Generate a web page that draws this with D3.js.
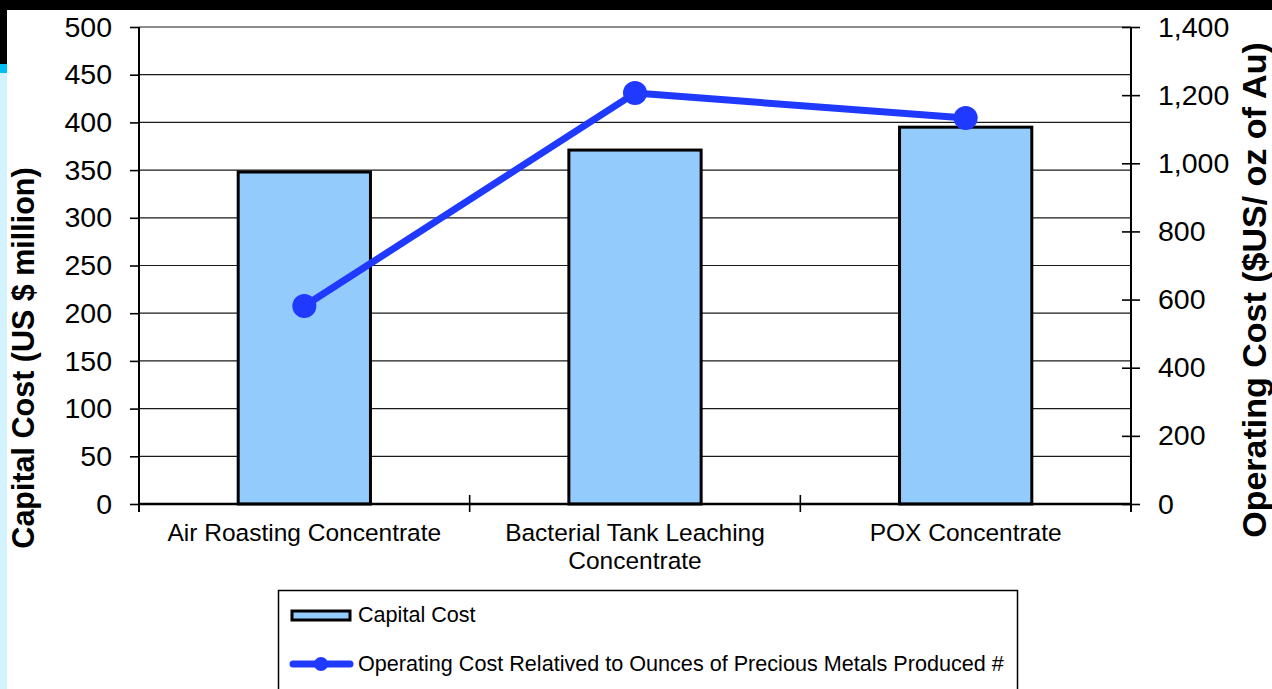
<!DOCTYPE html>
<html>
<head>
<meta charset="utf-8">
<script src="https://cdn.jsdelivr.net/npm/d3@7"></script>
<style>
  html, body { margin: 0; padding: 0; background: #fff; }
  svg { display: block; font-family: "Liberation Sans", Arial, sans-serif; }
</style>
</head>
<body>
<svg id="chart" width="1272" height="689"></svg>
<script>
// Categories and series
const categories = [
  ["Air Roasting Concentrate"],
  ["Bacterial Tank Leaching", "Concentrate"],
  ["POX Concentrate"]
];
const capitalCost = [348, 371, 395];          // US $ million (left axis)
const operatingCost = [581, 1206, 1133];      // $US / oz Au (right axis)
const leftTicks = [0, 50, 100, 150, 200, 250, 300, 350, 400, 450, 500];
const rightTicks = [0, 200, 400, 600, 800, 1000, 1200, 1400];
const seriesNames = ["Capital Cost", "Operating Cost Relatived to Ounces of Precious Metals Produced #"];

const svg = d3.select("#chart");
const W = 1272, H = 689;
const m = { left: 139, right: 1131, top: 27, bottom: 504 };

// Page frame: dark top band and the pale strip on the left edge
svg.append("rect").attr("x", 0).attr("y", 0).attr("width", W).attr("height", H).attr("fill", "#fff");
svg.append("rect").attr("x", 0).attr("y", 0).attr("width", W).attr("height", 10).attr("fill", "#000");
svg.append("rect").attr("x", 0).attr("y", 0).attr("width", 7).attr("height", 64).attr("fill", "#000");
svg.append("rect").attr("x", 0).attr("y", 64).attr("width", 7).attr("height", 9).attr("fill", "#00bdf2");
svg.append("rect").attr("x", 0).attr("y", 73).attr("width", 7).attr("height", H - 73).attr("fill", "#d2f2fd");

const x = d3.scaleBand().domain(d3.range(categories.length)).range([m.left, m.right]).paddingInner(0).paddingOuter(0);
const yL = d3.scaleLinear().domain([0, 500]).range([m.bottom, m.top]);
const yR = d3.scaleLinear().domain([0, 1400]).range([m.bottom, m.top]);

// Horizontal gridlines
svg.append("g").selectAll("line").data(leftTicks.filter(d => d > 0)).join("line")
  .attr("x1", m.left).attr("x2", m.right)
  .attr("y1", d => yL(d)).attr("y2", d => yL(d))
  .attr("stroke", "#1a1a1a").attr("stroke-width", 1.2);

// Bars
const barW = x.bandwidth() * 0.4;
svg.append("g").selectAll("rect").data(capitalCost).join("rect")
  .attr("x", (d, i) => x(i) + (x.bandwidth() - barW) / 2)
  .attr("y", d => yL(d))
  .attr("width", barW)
  .attr("height", d => yL(0) - yL(d))
  .attr("fill", "#93cbfc")
  .attr("stroke", "#000").attr("stroke-width", 3);

// Left axis
const leftAxis = d3.axisLeft(yL).tickValues(leftTicks).tickSize(9).tickPadding(18).tickFormat(d3.format("d"));
const gL = svg.append("g").attr("transform", `translate(${m.left},0)`).call(leftAxis);
gL.select(".domain").attr("stroke", "#000").attr("stroke-width", 2).attr("d", `M0,${m.top}V${m.bottom + 8}`);
gL.selectAll(".tick line").attr("stroke", "#000").attr("stroke-width", 1.6);
gL.selectAll(".tick text").attr("font-size", 28.5).attr("fill", "#000").attr("font-family", "Liberation Sans, Arial, sans-serif");

// Right axis
const rightAxis = d3.axisRight(yR).tickValues(rightTicks).tickSize(9).tickPadding(18).tickFormat(d3.format(","));
const gR = svg.append("g").attr("transform", `translate(${m.right},0)`).call(rightAxis);
gR.select(".domain").attr("stroke", "#000").attr("stroke-width", 2).attr("d", `M0,${m.top}V${m.bottom + 8}`);
gR.selectAll(".tick line").attr("x1", -9).attr("stroke", "#000").attr("stroke-width", 1.6);
gR.selectAll(".tick text").attr("font-size", 28.5).attr("fill", "#000").attr("font-family", "Liberation Sans, Arial, sans-serif");

// Category axis
const boundaries = d3.range(categories.length + 1).map(i => m.left + i * x.step());
svg.append("line").attr("x1", m.left).attr("x2", m.right).attr("y1", m.bottom).attr("y2", m.bottom)
  .attr("stroke", "#000").attr("stroke-width", 2.6);
svg.append("g").selectAll("line").data(boundaries).join("line")
  .attr("x1", d => d).attr("x2", d => d).attr("y1", m.bottom - 9).attr("y2", m.bottom + 8)
  .attr("stroke", "#000").attr("stroke-width", 1.6);
const catG = svg.append("g").selectAll("text").data(categories).join("text")
  .attr("x", (d, i) => x(i) + x.bandwidth() / 2)
  .attr("y", 541)
  .attr("text-anchor", "middle").attr("font-size", 24.5).attr("fill", "#000");
catG.selectAll("tspan").data(d => d).join("tspan")
  .attr("x", function () { return d3.select(this.parentNode).attr("x"); })
  .attr("dy", (d, i) => i === 0 ? 0 : 28)
  .text(d => d);

// Operating cost line
const line = d3.line().x((d, i) => x(i) + x.bandwidth() / 2).y(d => yR(d));
svg.append("path").datum(operatingCost).attr("d", line)
  .attr("fill", "none").attr("stroke", "#1f39ff").attr("stroke-width", 7).attr("stroke-linejoin", "round");
svg.append("g").selectAll("circle").data(operatingCost).join("circle")
  .attr("cx", (d, i) => x(i) + x.bandwidth() / 2).attr("cy", d => yR(d)).attr("r", 12)
  .attr("fill", "#1f39ff");

// Axis titles
svg.append("text").attr("transform", "translate(34,358) rotate(-90)")
  .attr("text-anchor", "middle").attr("font-size", 30.5).attr("font-weight", "bold").attr("fill", "#000")
  .text("Capital Cost (US $ million)");
svg.append("text").attr("transform", "translate(1266,290) rotate(-90)")
  .attr("text-anchor", "middle").attr("font-size", 34).attr("font-weight", "bold").attr("fill", "#000")
  .text("Operating Cost ($US/ oz of Au)");

// Legend
const lg = svg.append("g");
lg.append("rect").attr("x", 278.5).attr("y", 590.5).attr("width", 739).attr("height", 120)
  .attr("fill", "#fff").attr("stroke", "#000").attr("stroke-width", 1.5);
lg.append("rect").attr("x", 292).attr("y", 611).attr("width", 58).attr("height", 9)
  .attr("fill", "#93cbfc").attr("stroke", "#000").attr("stroke-width", 3);
lg.append("line").attr("x1", 293).attr("x2", 350).attr("y1", 664).attr("y2", 664)
  .attr("stroke", "#1f39ff").attr("stroke-width", 7).attr("stroke-linecap", "round");
lg.append("circle").attr("cx", 321).attr("cy", 664).attr("r", 7).attr("fill", "#1f39ff");
lg.selectAll("text.lbl").data(seriesNames).join("text").attr("class", "lbl")
  .attr("x", 358).attr("y", (d, i) => 622 + i * 49)
  .attr("font-size", 21.6).attr("fill", "#000").text(d => d);
</script>
</body>
</html>
